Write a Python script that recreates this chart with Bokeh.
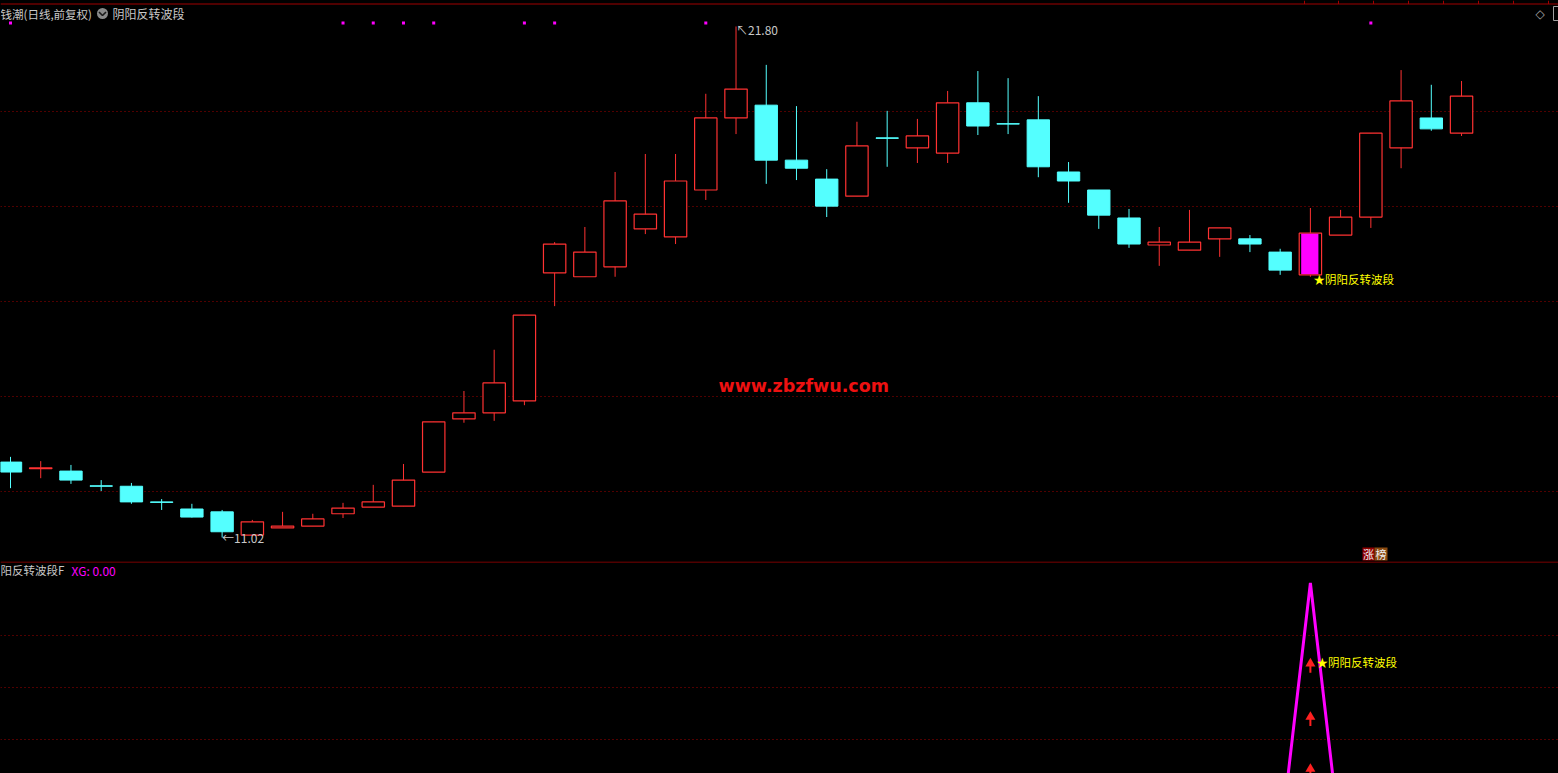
from bokeh.plotting import figure
from bokeh.layouts import column
from bokeh.models import Range1d, FixedTicker, Span, Label, GlobalInlineStyleSheet
from bokeh.core.properties import value
from bokeh.embed import file_html
from bokeh.resources import INLINE

# ---------------- data ----------------
opens  = [12.61, 12.47, 12.42, 12.11, 12.10, 11.77, 11.62, 11.56, 11.07, 11.22,
          11.26, 11.52, 11.66, 11.68, 12.40, 13.52, 13.65, 13.90, 16.60, 16.52,
          16.73, 17.53, 17.36, 18.35, 19.87, 20.14, 18.98, 18.58, 18.22, 19.45,
          19.24, 19.13, 20.19, 19.75, 19.83, 18.73, 18.35, 17.76, 17.19, 17.08,
          17.32, 17.32, 17.04, 16.56, 17.40, 17.78, 19.24, 19.87, 19.55]
highs  = [12.72, 12.63, 12.55, 12.23, 12.17, 11.83, 11.73, 11.60, 11.39, 11.56,
          11.52, 11.75, 12.13, 12.57, 13.46, 14.11, 14.98, 15.71, 17.25, 17.57,
          18.73, 19.11, 19.11, 20.38, 21.80, 20.99, 20.12, 18.79, 19.79, 20.02,
          19.85, 20.44, 20.86, 20.71, 20.33, 18.94, 18.35, 17.95, 17.57, 17.93,
          17.55, 17.40, 17.11, 17.97, 17.93, 19.55, 20.88, 20.57, 20.65]
lows   = [12.06, 12.27, 12.15, 12.00, 11.73, 11.60, 11.44, 11.02, 11.07, 11.22,
          11.26, 11.43, 11.66, 11.68, 12.40, 13.44, 13.48, 13.81, 15.90, 16.52,
          16.52, 17.42, 17.21, 18.14, 19.53, 18.48, 18.56, 17.78, 18.22, 18.84,
          18.92, 18.92, 19.51, 19.53, 18.62, 18.08, 17.53, 17.13, 16.75, 17.08,
          16.94, 17.04, 16.56, 16.52, 17.40, 17.55, 18.81, 19.60, 19.49]
closes = [12.40, 12.49, 12.23, 12.10, 11.77, 11.76, 11.45, 11.14, 11.35, 11.26,
          11.41, 11.64, 11.77, 12.23, 13.46, 13.65, 14.28, 15.71, 17.21, 17.04,
          18.12, 17.84, 18.54, 19.87, 20.48, 18.98, 18.81, 18.01, 19.28, 19.44,
          19.49, 20.19, 19.70, 19.74, 18.84, 18.54, 17.82, 17.21, 17.25, 17.25,
          17.55, 17.21, 16.66, 17.44, 17.78, 19.55, 20.23, 19.64, 20.33]
top_marks = [0, 11, 12, 13, 14, 17, 18, 23, 45]          # bars with magenta dots at top
xg = [0] * 43 + [1] + [0] * 5                             # XG indicator values
arrow_levels = [0.69, 0.485, 0.285]                       # red arrows in XG panel
price_ticks = [12, 14, 16, 18, 20]
xg_ticks = [0.4, 0.6, 0.8]
title_text = "钱潮(日线,前复权)"
indicator_name = "阴阳反转波段"
sub_title = "阳反转波段F"
signal_text = "★阴阳反转波段"
watermark = "www.zbzfwu.com"

# ---------------- layout constants ----------------
W, H1, H2 = 1558, 561, 212
BAR_PX, X0_PX = 30.23, 10.0
PX_PER_PRICE, REF_PRICE, REF_PX = 47.4, 12.0, 490.5
PX_PER_XG, XG0_LOCAL = 260.0, 281.5

RED = "#ff3232"
CYAN = "#54ffff"
MAGENTA = "#ff00ff"
GRID = "#a00000"
CJK = "Noto Sans CJK SC"


def sx(px):
    return (px - X0_PX) / BAR_PX


def sy(py):
    return REF_PRICE + (REF_PX - py) / PX_PER_PRICE


def vy(ly):
    return (XG0_LOCAL - ly) / PX_PER_XG


x_range = Range1d(sx(0), sx(W))


def make_fig(h, yr):
    p = figure(width=W, height=h, x_range=x_range, y_range=yr,
               output_backend="svg", toolbar_location=None, min_border=0,
               x_axis_location=None, y_axis_location=None,
               background_fill_color="black", border_fill_color="black",
               outline_line_color=None)
    p.xgrid.visible = False
    p.ygrid.grid_line_color = GRID
    p.ygrid.grid_line_dash = "1 3"
    p.ygrid.grid_line_width = 1
    return p


# ---------------- top (price) panel ----------------
p1 = make_fig(H1, Range1d(sy(H1), sy(0)))
p1.ygrid.ticker = FixedTicker(ticks=price_ticks)

n = len(opens)
idx = list(range(n))
is_up = [c >= o for o, c in zip(opens, closes)]
colors = [RED if u else CYAN for u in is_up]
tops = [max(o, c) for o, c in zip(opens, closes)]
bots = [min(o, c) for o, c in zip(opens, closes)]

p1.segment(x0=idx, y0=lows, x1=idx, y1=highs, line_color=colors, line_width=1)

up_i = [i for i in idx if is_up[i]]
dn_i = [i for i in idx if not is_up[i]]
p1.vbar(x=up_i, width=0.74, top=[tops[i] for i in up_i], bottom=[bots[i] for i in up_i],
        fill_color="black", line_color=RED, line_width=1.2)
p1.vbar(x=dn_i, width=0.74, top=[tops[i] for i in dn_i], bottom=[bots[i] for i in dn_i],
        fill_color=CYAN, line_color=CYAN, line_width=1)

sig = xg.index(1)
p1.vbar(x=[sig - 0.02], width=0.57, top=[closes[sig] - 0.015], bottom=[opens[sig] + 0.015],
        fill_color=MAGENTA, line_color=None)

# magenta marks along the top
p1.scatter(top_marks, [sy(22.5)] * len(top_marks), marker="square", size=3,
           fill_color=MAGENTA, line_color=None)

# top red rule with ticks
p1.add_layout(Span(location=sy(3.5), dimension="width", line_color="#a00000", line_width=1))
tick_px = [1304, 1338, 1373, 1408, 1443, 1478, 1513, 1548]
p1.segment(x0=[sx(t) for t in tick_px], y0=[sy(0)] * len(tick_px),
           x1=[sx(t) for t in tick_px], y1=[sy(3.5)] * len(tick_px),
           line_color="#a00000", line_width=1)

# high / low labels
hi_i = highs.index(max(highs))
lo_i = lows.index(min(lows))
p1.text(x=[hi_i], y=[highs[hi_i]], text=["↖" + f"{highs[hi_i]:.2f}"],
        text_font=value(CJK), text_font_size="12px", text_color="#c8c8c8",
        text_baseline="middle", text_align="left", x_offset=0, y_offset=3)
p1.text(x=[lo_i], y=[lows[lo_i]], text=["←" + f"{lows[lo_i]:.2f}"],
        text_font=value(CJK), text_font_size="12px", text_color="#c8c8c8",
        text_baseline="middle", text_align="left", x_offset=0, y_offset=0)

# signal label
p1.text(x=[sig], y=[lows[sig]], text=[signal_text], text_font=value(CJK),
        text_font_size="11.5px", text_color="#ffff00", text_baseline="middle",
        text_align="left", x_offset=3, y_offset=2)

# title
p1.add_layout(Label(x=0, y=H1 - 13, x_units="screen", y_units="screen", text=title_text,
                    text_font=CJK, text_font_size="11.5px", text_color="#c8c8c8",
                    text_baseline="middle"))
p1.scatter([sx(102)], [sy(13)], marker="circle", size=11, fill_color="#8a8a8a", line_color=None)
p1.line([sx(98.5), sx(102), sx(105.5)], [sy(11.5), sy(15), sy(11.5)],
        line_color="#1a1a1a", line_width=1.6)
p1.add_layout(Label(x=112, y=H1 - 13, x_units="screen", y_units="screen", text=indicator_name,
                    text_font=CJK, text_font_size="12px", text_color="#c8c8c8",
                    text_baseline="middle"))

# top-right icons
p1.add_layout(Label(x=1535, y=H1 - 13, x_units="screen", y_units="screen", text="◇",
                    text_font="DejaVu Sans", text_font_size="12px", text_color="#a0a0a0",
                    text_baseline="middle"))
p1.quad(left=[sx(1553)], right=[sx(1563)], top=[sy(6)], bottom=[sy(20)],
        fill_color=None, line_color="#a0a0a0", line_width=1)

# watermark
p1.add_layout(Label(x=718, y=H1 - 385, x_units="screen", y_units="screen", text=watermark,
                    text_font="DejaVu Sans", text_font_style="bold", text_font_size="17.5px",
                    text_color="#ee1111", text_baseline="middle"))

# badge
p1.quad(left=[sx(1362), sx(1374)], right=[sx(1374), sx(1387)], top=[sy(547), sy(547)],
        bottom=[sy(560), sy(560)], fill_color=["#900000", "#8a4a10"], line_color=None)
p1.add_layout(Label(x=1368, y=H1 - 553.5, x_units="screen", y_units="screen", text="涨",
                    text_font=CJK, text_font_size="11px", text_color="#f0f0f0",
                    text_baseline="middle", text_align="center"))
p1.add_layout(Label(x=1380.5, y=H1 - 553.5, x_units="screen", y_units="screen", text="榜",
                    text_font=CJK, text_font_size="11px", text_color="#f0f0f0",
                    text_baseline="middle", text_align="center"))

# ---------------- bottom (XG) panel ----------------
p2 = make_fig(H2, Range1d(vy(H2), vy(0)))
p2.ygrid.ticker = FixedTicker(ticks=xg_ticks)
p2.add_layout(Span(location=vy(0.5), dimension="width", line_color="#a00000", line_width=1))

p2.line(idx, xg, line_color=MAGENTA, line_width=3)
p2.segment(x0=[sig] * len(arrow_levels), y0=arrow_levels,
           x1=[sig] * len(arrow_levels), y1=[a - 0.035 for a in arrow_levels],
           line_color="#ff2020", line_width=2)
p2.scatter([sig] * len(arrow_levels), arrow_levels, marker="triangle", size=10,
           fill_color="#ff2020", line_color=None)
p2.text(x=[sig], y=[arrow_levels[0]], text=[signal_text], text_font=value(CJK),
        text_font_size="11.5px", text_color="#ffff00", text_baseline="middle",
        text_align="left", x_offset=6, y_offset=-2)

p2.add_layout(Label(x=0, y=H2 - 8.5, x_units="screen", y_units="screen",
                    text=sub_title, text_font=CJK, text_font_size="11.5px",
                    text_color="#c8c8c8", text_baseline="middle"))
p2.add_layout(Label(x=71, y=H2 - 8.5, x_units="screen", y_units="screen",
                    text=f"XG: {xg[-1]:.2f}", text_font=CJK, text_font_size="12px",
                    text_color=MAGENTA, text_baseline="middle"))

layout = column(p1, p2, spacing=0)
layout.stylesheets = [GlobalInlineStyleSheet(
    css="html, body { margin: 0; padding: 0; background: #000; overflow: hidden; }")]

open("out.html", "w").write(file_html(layout, INLINE))
